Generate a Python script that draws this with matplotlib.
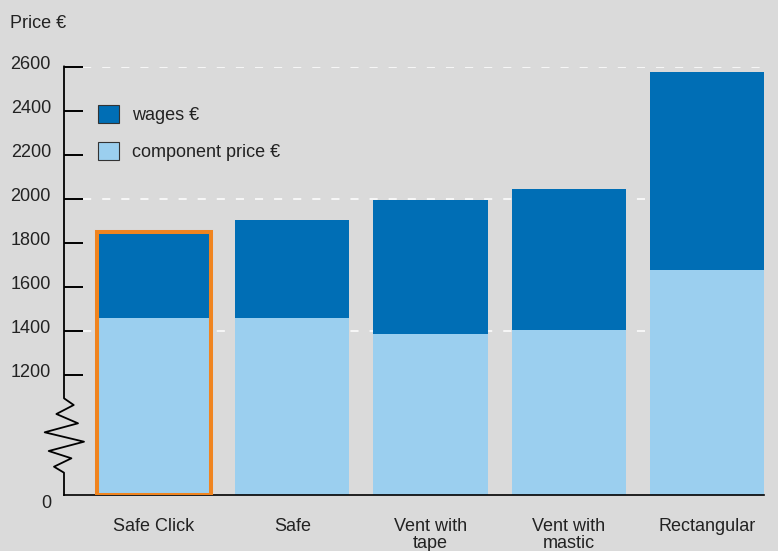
import numpy as np
import matplotlib.pyplot as plt
from matplotlib.patches import Patch
from matplotlib.transforms import ScaledTranslation

categories = ['Safe Click', 'Safe', 'Vent with\ntape', 'Vent with\nmastic', 'Rectangular']
component = [1460, 1460, 1385, 1405, 1677]
wages = [390, 445, 610, 640, 896]
ytick_vals = [0, 1200, 1400, 1600, 1800, 2000, 2200, 2400, 2600]
grid_vals = [1400, 2000, 2600]

light = '#9bcfef'
dark = '#006eb5'
orange = '#f0841f'
bg = '#dadada'
txt = '#222222'

plt.rcParams['font.family'] = ['Liberation Sans', 'DejaVu Sans']
plt.rcParams['font.size'] = 13

# broken axis: 0..1200 squeezed, linear above 1200
def fwd(v):
    v = np.asarray(v, dtype=float)
    return np.where(v < 1200, v * 545.0 / 1200.0, v - 655.0)

def inv(u):
    u = np.asarray(u, dtype=float)
    return np.where(u < 545, u * 1200.0 / 545.0, u + 655.0)

fig = plt.figure(figsize=(7.78, 5.51), dpi=100, facecolor=bg)
ax = fig.add_axes([64/778, 56/551, 700/778, 428.5/551])
ax.set_facecolor(bg)
ax.set_yscale('function', functions=(fwd, inv))

x = np.arange(len(categories))
w = 0.825
total = [c + g for c, g in zip(component, wages)]

for g in grid_vals:
    ax.axhline(g, color='white', lw=1.1, dashes=(5.3, 7.2), zorder=0)

ax.bar(x, component, width=w, color=light, zorder=2)
ax.bar(x, wages, bottom=component, width=w, color=dark, zorder=2)
# highlight first product
ax.bar(x[0], total[0], width=w, fill=False, edgecolor=orange, lw=2.9, zorder=3)

ax.set_xlim(-0.651, 4.412)
ax.set_ylim(0, 2600)

ax.set_xticks(x)
ax.set_xticklabels(categories, color=txt, linespacing=1.0, va='top')
ax.tick_params(axis='x', length=0, pad=16.5)

ax.set_yticks(ytick_vals)
ax.set_yticklabels([str(v) for v in ytick_vals], color=txt)
ax.tick_params(axis='y', direction='in', length=13.7, width=1.4, color='black', pad=9.4)
ax.yaxis.get_major_ticks()[0].tick1line.set_visible(False)
for i, lab in enumerate(ax.get_yticklabels()):
    dy = -7 if i == 0 else 4
    lab.set_transform(lab.get_transform() + ScaledTranslation(0, dy/100, fig.dpi_scale_trans))

for s in ['top', 'right', 'left']:
    ax.spines[s].set_visible(False)
ax.spines['bottom'].set_linewidth(1.2)
ax.spines['bottom'].set_color('black')

# left axis line with break symbol
zx = np.array([0, 0, 9.7, -7.6, 14, -19.3, 20, -15.3, 7.4, -10, 0, 0]) / 700.0
zy = np.array([428.5, 96.7, 90, 81, 71.7, 62.7, 53.3, 44, 36.7, 28.3, 22.3, 0]) / 428.5
ax.plot(zx, zy, color='black', lw=1.3, transform=ax.transAxes, clip_on=False, zorder=5)

handles = [Patch(facecolor=dark, edgecolor='#333333', lw=0.8, label='wages €'),
           Patch(facecolor=light, edgecolor='#333333', lw=0.8, label='component price €')]
leg = ax.legend(handles=handles, loc='upper left', bbox_to_anchor=(0.0486, 0.910),
                frameon=False, borderaxespad=0, borderpad=0, handlelength=1.16,
                handleheight=1.16, handletextpad=0.72, labelspacing=0.99)
for t in leg.get_texts():
    t.set_color(txt)

fig.text(10/778, 1 - 28/551, 'Price €', color=txt, fontsize=13, va='baseline')

fig.savefig('out.png', dpi=100, facecolor=bg)
